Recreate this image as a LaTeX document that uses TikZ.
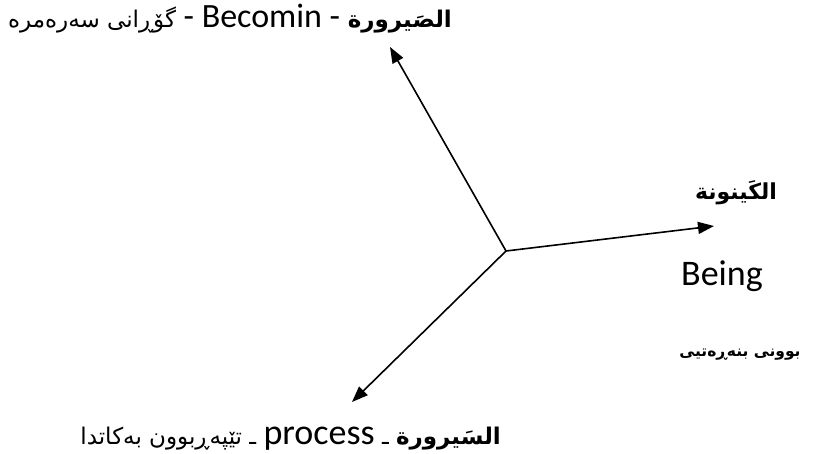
\documentclass[tikz,border=0pt]{standalone}
\usepackage{fontspec}
\setmainfont{Carlito}
\newfontfamily\arabicfont[Script=Arabic]{DejaVu Sans}
\TeXXeTstate=1
\usetikzlibrary{arrows.meta}
\newcommand\latseg[2]{{\fontsize{#1}{#1}\selectfont\rmfamily\mdseries\beginL#2\endL}}
\tikzset{
  arr/.style={line width=1.6pt,-{Triangle[length=16pt,width=12pt]}},
  lbl/.style={inner sep=0pt}
}
\begin{document}
\begin{tikzpicture}[x=1pt,y=-1pt]
\useasboundingbox (0,0) rectangle (816,454);
\coordinate (c) at (506,251);
\coordinate (up) at (390,47);
\coordinate (rt) at (714,226);
\coordinate (dl) at (352,402);
\draw[arr] (c) -- (up);
\draw[arr] (c) -- (rt);
\draw[arr] (c) -- (dl);
\node[lbl,anchor=base east] (top) at (452,28) {\arabicfont\fontsize{23}{28}\selectfont\beginR{\bfseries الصَيرورة}\latseg{34}{ - Becomin - }گۆڕانی سەرەمرە\endR};
\node[lbl,anchor=base] (kay) at (736,200) {\arabicfont\fontsize{22}{26}\selectfont\bfseries\beginR الكَينونة\endR};
\node[lbl,anchor=base,font=\fontsize{36}{40}\selectfont] (being) at (722,285) {Being};
\node[lbl,anchor=base] (asl) at (740,356) {\arabicfont\fontsize{15.5}{20}\selectfont\bfseries\beginR بوونی بنەڕەتیی\endR};
\node[lbl,anchor=base east] (bot) at (501,444) {\arabicfont\fontsize{23}{28}\selectfont\beginR{\bfseries السَيرورة} ـ \latseg{36}{process} ـ تێپەڕبوون بەکاتدا\endR};
\end{tikzpicture}
\end{document}
